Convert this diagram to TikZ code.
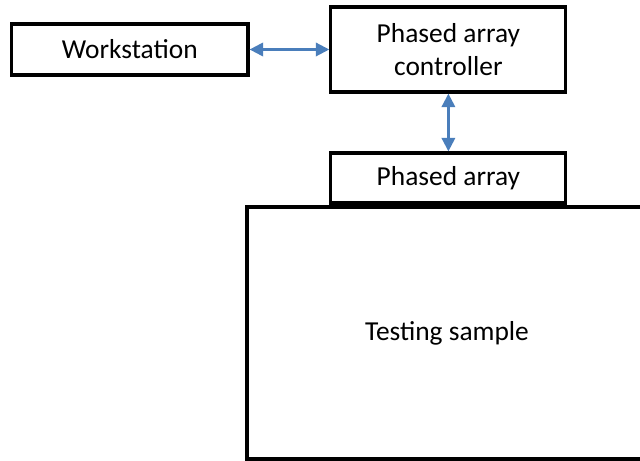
\documentclass[tikz,border=0pt]{standalone}
\usepackage{fontspec}
\setmainfont{Carlito}
\usetikzlibrary{arrows.meta, positioning}
\definecolor{linkblue}{HTML}{4A7EBB}

\begin{document}
\begin{tikzpicture}[
        every node/.style={font=\fontsize{19.5}{23.5}\selectfont},
        unitbox/.style={draw=black, line width=2.2pt, fill=white, inner sep=0pt, align=center},
        biarrow/.style={{Triangle[length=3.4mm,width=3.3mm]}-{Triangle[length=3.4mm,width=3.3mm]}, linkblue, line width=2.1pt}
    ]
        \useasboundingbox (0,0) rectangle (16,-11.525);

        % Units of the set-up
        \node[unitbox, minimum width=5.91cm, minimum height=1.275cm] (ws) at (3.244,-1.2375) {Workstation};
        \node[unitbox, minimum width=5.875cm, minimum height=2.125cm] (ctrl) at (11.21,-1.2375) {Phased array\\controller};
        \node[unitbox, minimum width=5.875cm, minimum height=1.25cm] (pa) at (11.21,-4.45) {Phased array};

        % Sample under the probe
        \node[unitbox, minimum width=10cm, minimum height=6.3cm] (sample) at (11.175,-8.325) {Testing sample};

        % Links
        \draw[biarrow] (ws.east) -- (ctrl.west);
        \draw[biarrow] (ctrl.south) -- (pa.north);

    \end{tikzpicture}
\end{document}
